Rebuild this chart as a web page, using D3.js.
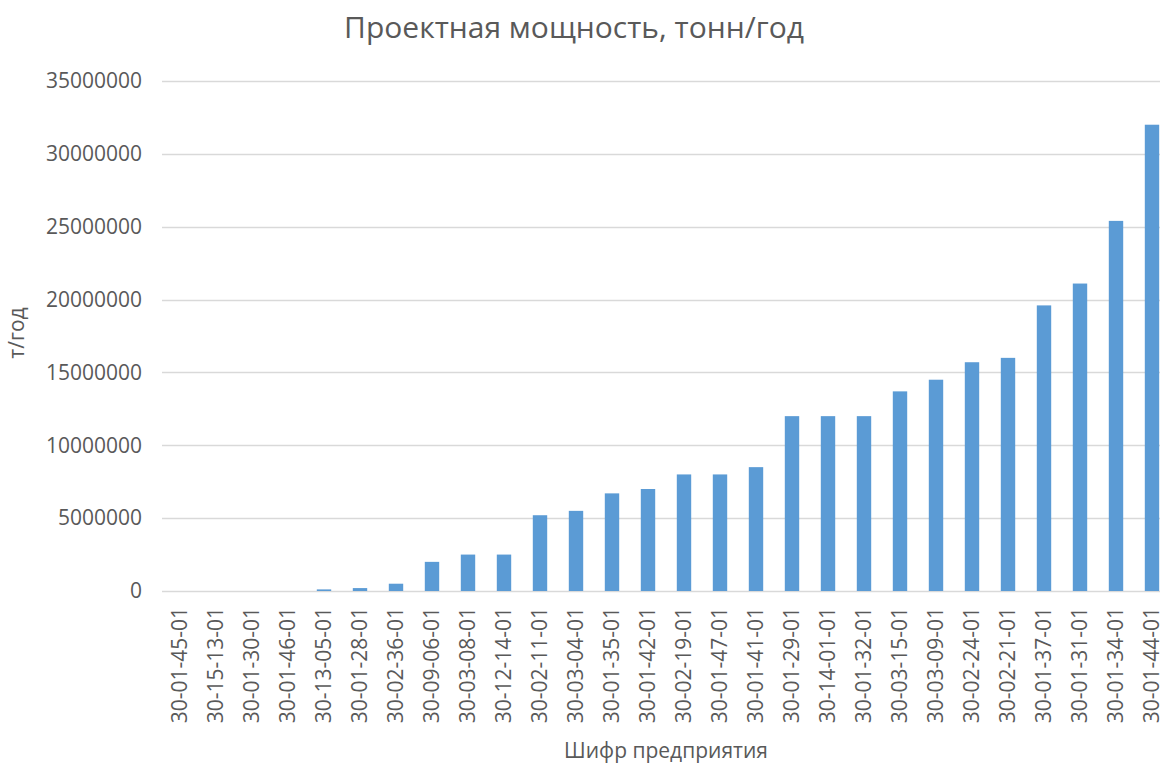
<!DOCTYPE html>
<html><head><meta charset="utf-8">
<script src="https://cdn.jsdelivr.net/npm/d3@7"></script>
<style>body{margin:0;background:#fff;} svg{display:block;}</style>
</head><body>
<script>
const categories = ["30-01-45-01","30-15-13-01","30-01-30-01","30-01-46-01","30-13-05-01","30-01-28-01","30-02-36-01","30-09-06-01","30-03-08-01","30-12-14-01","30-02-11-01","30-03-04-01","30-01-35-01","30-01-42-01","30-02-19-01","30-01-47-01","30-01-41-01","30-01-29-01","30-14-01-01","30-01-32-01","30-03-15-01","30-03-09-01","30-02-24-01","30-02-21-01","30-01-37-01","30-01-31-01","30-01-34-01","30-01-44-01"];
const values = [0,0,0,0,110000,200000,500000,2000000,2500000,2500000,5200000,5500000,6700000,7000000,8000000,8000000,8500000,12000000,12000000,12000000,13700000,14500000,15700000,16000000,19600000,21100000,25400000,32000000];
const yTicks = [0,5000000,10000000,15000000,20000000,25000000,30000000,35000000];
const title = "Проектная мощность, тонн/год";
const xTitle = "Шифр предприятия";
const yTitle = "т/год";

const W = 1160, H = 767;
const font = "'Open Sans', sans-serif";
const txt = "#595959";
const svg = d3.select("body").append("svg").attr("width", W).attr("height", H);

const x = d3.scaleBand().domain(categories).range([162, 1170]).paddingInner(0.6).paddingOuter(0.3);
const y = d3.scaleLinear().domain([0, 35000000]).range([591, 81]);

// gridlines
svg.append("g").selectAll("line").data(yTicks).join("line")
  .attr("x1", 162).attr("x2", 1170)
  .attr("y1", d => Math.round(y(d)) + 0.5).attr("y2", d => Math.round(y(d)) + 0.5)
  .attr("stroke", "#d9d9d9").attr("stroke-width", 1.3);

// bars
svg.append("g").selectAll("rect").data(values).join("rect")
  .attr("x", (d, i) => x(categories[i]))
  .attr("width", x.bandwidth())
  .attr("y", d => y(d))
  .attr("height", d => y(0) - y(d))
  .attr("fill", "#5b9bd5");

// y axis
const yAxis = d3.axisLeft(y).tickValues(yTicks).tickSize(0).tickPadding(0).tickFormat(d3.format("d"));
const gy = svg.append("g").attr("transform", "translate(142,0)").call(yAxis);
gy.select(".domain").remove();
gy.selectAll("text").attr("fill", txt).style("font-family", font).style("font-size", "21px");

// x axis
const xAxis = d3.axisBottom(x).tickSize(0).tickPadding(0);
const gx = svg.append("g").attr("transform", "translate(0,591)").call(xAxis);
gx.select(".domain").remove();
gx.selectAll("text")
  .attr("fill", txt).style("font-family", font).style("font-size", "21px")
  .attr("text-anchor", "end")
  .attr("transform", "translate(0,16) rotate(-90)")
  .attr("x", 0).attr("y", 0).attr("dy", "0.35em");

// titles
svg.append("text").attr("x", 574).attr("y", 38).attr("text-anchor", "middle")
  .attr("fill", txt).style("font-family", font).style("font-size", "30px").text(title);
svg.append("text").attr("x", 666).attr("y", 758).attr("text-anchor", "middle")
  .attr("fill", txt).style("font-family", font).style("font-size", "21px").text(xTitle);
svg.append("text").attr("transform", "translate(24,333) rotate(-90)").attr("text-anchor", "middle")
  .attr("fill", txt).style("font-family", font).style("font-size", "21px").text(yTitle);
</script>
</body></html>
